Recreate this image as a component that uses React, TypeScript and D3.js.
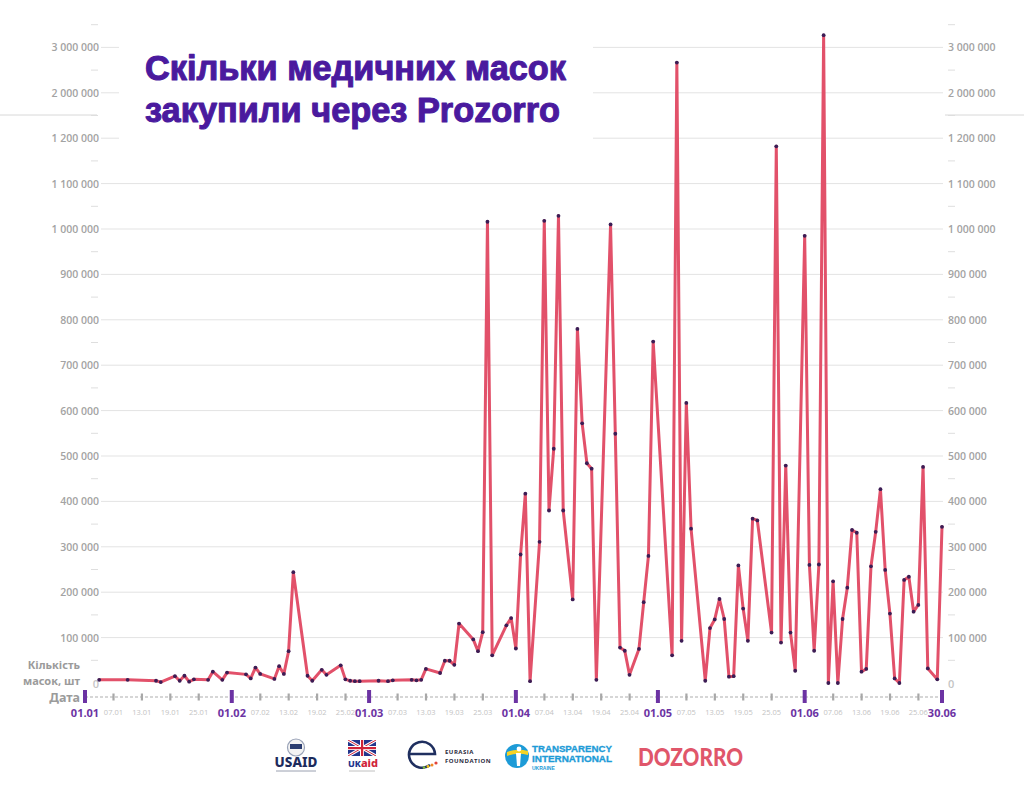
import React from "react";
import * as d3 from "d3";

const dates = [
  "2020-01-04","2020-01-10","2020-01-16","2020-01-17","2020-01-20","2020-01-21","2020-01-22","2020-01-23","2020-01-24","2020-01-27","2020-01-28","2020-01-30","2020-01-31",
  "2020-02-04","2020-02-05","2020-02-06","2020-02-07","2020-02-10","2020-02-11","2020-02-12","2020-02-13","2020-02-14","2020-02-17","2020-02-18","2020-02-20","2020-02-21","2020-02-24","2020-02-25","2020-02-26","2020-02-27","2020-02-28",
  "2020-03-03","2020-03-05","2020-03-06","2020-03-10","2020-03-11","2020-03-12","2020-03-13","2020-03-16","2020-03-17","2020-03-18","2020-03-19","2020-03-20","2020-03-23","2020-03-24","2020-03-25","2020-03-26","2020-03-27","2020-03-30","2020-03-31",
  "2020-04-01","2020-04-02","2020-04-03","2020-04-04","2020-04-06","2020-04-07","2020-04-08","2020-04-09","2020-04-10","2020-04-11","2020-04-13","2020-04-14","2020-04-15","2020-04-16","2020-04-17","2020-04-18","2020-04-21","2020-04-22","2020-04-23","2020-04-24","2020-04-25","2020-04-27","2020-04-28","2020-04-29","2020-04-30",
  "2020-05-04","2020-05-05","2020-05-06","2020-05-07","2020-05-08","2020-05-11","2020-05-12","2020-05-13","2020-05-14","2020-05-15","2020-05-16","2020-05-17","2020-05-18","2020-05-19","2020-05-20","2020-05-21","2020-05-22","2020-05-25","2020-05-26","2020-05-27","2020-05-28","2020-05-29","2020-05-30",
  "2020-06-01","2020-06-02","2020-06-03","2020-06-04","2020-06-05","2020-06-06","2020-06-07","2020-06-08","2020-06-09","2020-06-10","2020-06-11","2020-06-12","2020-06-13","2020-06-14","2020-06-15","2020-06-16","2020-06-17","2020-06-18","2020-06-19","2020-06-20","2020-06-21","2020-06-22","2020-06-23","2020-06-24","2020-06-25","2020-06-26","2020-06-27","2020-06-29","2020-06-30",
];

const masks = [
  7000,7000,5000,2000,15000,5000,16000,3000,8000,7000,25000,7000,23000,
  19000,10000,34000,20000,9000,37000,20000,70000,244000,16000,5000,29000,18000,39000,8000,5000,4000,4000,
  5000,4000,6000,7000,6000,7000,31000,22000,49000,49000,40000,131000,96000,70000,112000,1016000,61000,127000,143000,
  76000,283000,417000,4000,311000,1018000,380000,516000,1029000,380000,184000,780000,572000,484000,472000,7000,1010000,549000,78000,71000,18000,75000,178000,280000,752000,
  61000,2665000,93000,617000,340000,5000,121000,140000,185000,141000,14000,15000,259000,164000,93000,362000,358000,111000,1182000,89000,479000,111000,27000,
  985000,260000,71000,261000,3270000,0,224000,0,141000,210000,337000,331000,25000,31000,257000,333000,427000,249000,153000,10000,0,227000,234000,157000,172000,476000,32000,8000,344000,
];

// y axis: broken scale, linear to 1.2M, then one step to 2M and one to 3M
const yBreaks = [0, 1200000, 2000000, 3000000];
const yTicks = [0, 100000, 200000, 300000, 400000, 500000, 600000, 700000, 800000, 900000, 1000000, 1100000, 1200000, 2000000, 3000000];

const majorDates = ["2020-01-01", "2020-02-01", "2020-03-01", "2020-04-01", "2020-05-01", "2020-06-01", "2020-06-30"];
const minorDays = [7, 13, 19, 25];
const monthsNum = [1, 2, 3, 4, 5, 6];

const titleLines = ["Скільки медичних масок", "закупили через Prozorro"];

const parse = d3.timeParse("%Y-%m-%d");
const fmtTick = d3.timeFormat("%d.%m");

export default function App() {
  const W = 1024, H = 811;
  const y0 = 683, step = 45.4;
  const x = d3.scaleTime().domain([parse("2020-01-01")!, parse("2020-06-30")!]).range([85, 942]);
  const y = d3.scaleLinear().domain(yBreaks).range([y0, y0 - 12 * step, y0 - 13 * step, y0 - 14 * step]);

  const data = dates.map((d, i) => ({ date: parse(d)!, value: masks[i] }));
  const line = d3.line<{ date: Date; value: number }>().x(d => x(d.date)).y(d => y(d.value));

  const fmtNum = (v: number) => (v === 0 ? "0" : d3.format(",")(v).replace(/,/g, " "));

  const tickYs = yTicks.map(v => y(v));
  const minorYs: number[] = [];
  for (let i = 0; i < tickYs.length - 1; i++) minorYs.push((tickYs[i] + tickYs[i + 1]) / 2);
  minorYs.push(tickYs[tickYs.length - 1] - step / 2);

  const minorDates: Date[] = [];
  monthsNum.forEach(m => minorDays.forEach(d => minorDates.push(new Date(2020, m - 1, d))));

  const gray = "#a3a3a3";
  const purple = "#6c33a3";
  const axisY = 697;
  const font = "'Open Sans', 'Noto Sans', sans-serif";
  const arial = "'Liberation Sans', Arial, sans-serif";

  return (
    <svg width={W} height={H} style={{ position: "absolute", left: 0, top: 0, background: "#fff" }} fontFamily={font}>
      <rect width={W} height={H} fill="#fff" />
      {/* decorative side lines */}
      <line x1={0} x2={97} y1={115} y2={115} stroke="#d8d8d8" strokeWidth={1} />
      <line x1={945} x2={1024} y1={115} y2={115} stroke="#d8d8d8" strokeWidth={1} />

      {/* gridlines */}
      {yTicks.filter(v => v > 0).map(v => (
        <line key={"g" + v} x1={101} x2={943} y1={y(v)} y2={y(v)} stroke="#e3e3e3" strokeWidth={1} />
      ))}
      {minorYs.map((yy, i) => (
        <g key={"m" + i}>
          <line x1={91} x2={98} y1={yy} y2={yy} stroke="#dedede" strokeWidth={1} />
          <line x1={948} x2={955} y1={yy} y2={yy} stroke="#dedede" strokeWidth={1} />
        </g>
      ))}
      {/* y labels */}
      {yTicks.map(v => (
        <g key={"l" + v} fill={gray} fontWeight={600}>
          <text x={99} y={y(v)} textAnchor="end" dominantBaseline="central" fill={v === 0 ? "#c4c4c4" : gray} fontSize={v === 0 ? 11 : 10.5}>{fmtNum(v)}</text>
          <text x={948} y={y(v)} textAnchor="start" dominantBaseline="central" fill={v === 0 ? "#c4c4c4" : gray} fontSize={v === 0 ? 11 : 10.5}>{fmtNum(v)}</text>
        </g>
      ))}

      {/* title box */}
      <rect x={119} y={14} width={474} height={146} fill="#fff" />
      <text fill="#4a1a9e" stroke="#4a1a9e" strokeWidth={1.1} strokeLinejoin="round" fontFamily={arial} fontWeight={700} fontSize={35}>
        <tspan x={145} y={80} textLength={421} lengthAdjust="spacingAndGlyphs">{titleLines[0]}</tspan>
        <tspan x={145} y={122} textLength={415} lengthAdjust="spacingAndGlyphs">{titleLines[1]}</tspan>
      </text>

      {/* axis labels */}
      <g fill="#9b9b9b" fontWeight={700} fontFamily="'Noto Sans', sans-serif">
        <text textAnchor="end" fontSize={11}>
          <tspan x={80} y={669}>Кількість</tspan>
          <tspan x={80} y={685}>масок, шт</tspan>
        </text>
        <text x={80} y={axisY} textAnchor="end" dominantBaseline="central" fontSize={12.5}>Дата</text>
      </g>

      {/* x axis */}
      <line x1={85} x2={942} y1={axisY} y2={axisY} stroke="#c9c9c9" strokeWidth={1.6} strokeDasharray="3,2" />
      {minorDates.map((d, i) => (
        <g key={"xm" + i}>
          <rect x={x(d) - 1} y={axisY - 3.5} width={2.2} height={7} fill="#a8a8a8" />
          <text x={x(d)} y={axisY + 15} textAnchor="middle" dominantBaseline="central" fontSize={7.5} fill="#c3c3c3">{fmtTick(d)}</text>
        </g>
      ))}
      {majorDates.map(s => {
        const d = parse(s)!;
        return (
          <g key={"xM" + s}>
            <rect x={x(d) - 2} y={axisY - 7} width={4} height={13} fill={purple} />
            <text x={x(d)} y={axisY + 15} textAnchor="middle" dominantBaseline="central" fontSize={11} fontWeight={700} fill={purple}>{fmtTick(d)}</text>
          </g>
        );
      })}

      {/* data line */}
      <path d={line(data) || ""} fill="none" stroke="#e2516a" strokeWidth={3} strokeLinejoin="round" strokeLinecap="round" />
      {data.map((d, i) => (
        <circle key={"p" + i} cx={x(d.date)} cy={y(d.value)} r={1.9} fill="#3b1d55" />
      ))}

      {/* logos */}
      <g>
        {/* USAID */}
        <circle cx={296} cy={747.5} r={8.5} fill="#f3f3f3" stroke="#9aa3b8" strokeWidth={1.2} />
        <rect x={290} y={744} width={12} height={5} fill="#2b3d70" />
        <text x={296} y={767} textAnchor="middle" fontSize={13.5} fontWeight={800} fill="#1d2b5c" fontFamily="'Noto Sans', sans-serif">USAID</text>
        <line x1={276} x2={316} y1={771} y2={771} stroke="#9aa0b0" strokeWidth={1} />

        {/* UK aid */}
        <clipPath id="ukclip"><rect x={348} y={740} width={28} height={16} /></clipPath>
        <g clipPath="url(#ukclip)">
          <rect x={348} y={740} width={28} height={16} fill="#23358c" />
          <line x1={348} y1={740} x2={376} y2={756} stroke="#fff" strokeWidth={3} />
          <line x1={376} y1={740} x2={348} y2={756} stroke="#fff" strokeWidth={3} />
          <line x1={348} y1={740} x2={376} y2={756} stroke="#d0243a" strokeWidth={1} />
          <line x1={376} y1={740} x2={348} y2={756} stroke="#d0243a" strokeWidth={1} />
          <rect x={360} y={740} width={4} height={16} fill="#fff" />
          <rect x={348} y={746} width={28} height={4} fill="#fff" />
          <rect x={361} y={740} width={2.2} height={16} fill="#d0243a" />
          <rect x={348} y={747} width={28} height={2.2} fill="#d0243a" />
        </g>
        <text x={348} y={767} fontSize={11} fontWeight={800} fontFamily="'Noto Sans', sans-serif">
          <tspan fill="#23358c" fontSize={9}>UK</tspan><tspan fill="#d0243a">aid</tspan>
        </text>
        <line x1={349} x2={375} y1={771} y2={771} stroke="#b0b0b0" strokeWidth={0.8} />

        {/* Eurasia */}
        <path d="M 409 754 L 435 754 A 13 13 0 1 0 430 765" fill="none" stroke="#1f2f5f" strokeWidth={2.6} />
        <circle cx={424} cy={767.5} r={1.3} fill="#7fbf3a" />
        <circle cx={428} cy={766.5} r={1.4} fill="#f2c21a" />
        <circle cx={432} cy={765} r={1.5} fill="#f08a24" />
        <circle cx={436} cy={763} r={1.6} fill="#e2433a" />
        <text fontSize={6} fontWeight={700} fill="#2a2a40" letterSpacing={0.5}>
          <tspan x={445} y={754}>EURASIA</tspan>
          <tspan x={445} y={763}>FOUNDATION</tspan>
        </text>

        {/* Transparency International */}
        <circle cx={517} cy={756} r={12} fill="#1d9bd7" />
        <path d="M 507 752 Q 517 748 528 751 L 528 755 Q 517 752 507 756 Z" fill="#f5d327" />
        <circle cx={519} cy={749} r={2.4} fill="#fff" />
        <path d="M 516 753 L 521 753 L 520 766 L 517 766 Z" fill="#fff" />
        <text fontWeight={700} fill="#1d9bd7" fontFamily={arial} fontSize={8.8} stroke="#1d9bd7" strokeWidth={0.3}>
          <tspan x={532} y={752} textLength={80} lengthAdjust="spacingAndGlyphs">TRANSPARENCY</tspan>
          <tspan x={532} y={762} textLength={80} lengthAdjust="spacingAndGlyphs">INTERNATIONAL</tspan>
        </text>
        <text x={532} y={769.5} fontSize={5} fontWeight={700} fill="#1d9bd7" fontFamily={arial}>UKRAINE</text>

        {/* DOZORRO */}
        <text x={638} y={766} fontSize={24} fontWeight={900} fill="#e0566a" fontFamily="Lato, 'Noto Sans', sans-serif" textLength={105} lengthAdjust="spacingAndGlyphs">DOZORRO</text>
      </g>
    </svg>
  );
}
